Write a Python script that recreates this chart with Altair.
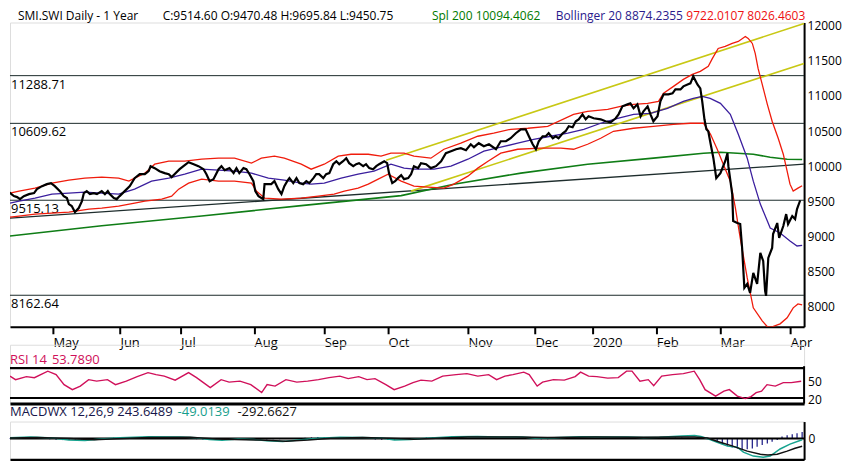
import json
import altair as alt
import pandas as pd

# ---------------- data ----------------
# x = trading-day index (0 = first day of the 1-year window)
price_day = [0, 1.6, 2.8, 3.8, 4.7, 5.9, 7.5, 9.1, 10, 11.6,
             13.1, 14.4, 15.6, 17.2, 18.4, 19.4, 20, 20.9, 21.9, 23.1,
             24.1, 24.7, 25.6, 26.6, 27.8, 28.8, 30.3, 31.3, 32.2, 32.8,
             34.1, 35, 35.9, 37.5, 39.1, 40.6, 42.2, 43.8, 45, 45.6,
             46.9, 48.4, 50, 51.3, 52.2, 53.1, 54.7, 56.3, 57.5, 59.1,
             60.6, 62.2, 63.1, 64.1, 65.3, 66.9, 67.8, 68.8, 70.3, 71.6,
             72.5, 73.4, 74.7, 75.6, 76.6, 77.8, 78.4, 79.4, 80.9, 81.3,
             82.5, 83.4, 84.4, 85.6, 86.6, 87.5, 88.4, 89.1, 90.3, 91.3,
             92.2, 93.4, 94.4, 95.3, 96.6, 97.5, 98.4, 99.7, 100.6, 101.6,
             102.8, 103.8, 104.7, 105.9, 106.9, 107.8, 109.1, 110, 110.9, 112.2,
             113.1, 114.1, 115.3, 116.3, 117.2, 118.8, 119.7, 120.3, 121.3, 122.2,
             123.1, 124.1, 125, 126.3, 127.2, 128.1, 129.4, 130.3, 131.9, 133.4,
             135, 136.6, 138.1, 139.7, 141.3, 142.8, 144.4, 145.9, 146.9, 148.4,
             150, 151.6, 153.8, 155.3, 156.9, 158.4, 160, 161.6, 163.1, 164.1,
             165.3, 166.3, 167.2, 168.4, 169.4, 170.3, 171.6, 172.5, 173.4, 174.7,
             175.6, 176.6, 177.8, 178.8, 179.7, 180.9, 181.9, 182.8, 184.4, 186.6,
             188.1, 189.7, 191.3, 192.2, 193.4, 195, 195.9, 196.9, 198.1, 199.1,
             200, 201.3, 202.2, 203.1, 204.4, 205.3, 206.3, 207.8, 209.1, 210,
             211.6, 212.5, 213.8, 214.7, 215.6, 216.9, 217.8, 218.4, 219.1, 219.7,
             220.3, 221, 221.9, 222.8, 224.1, 225.6, 226.3, 226.6, 227.8, 228.1,
             229.4, 230.3, 230.9, 231.6, 232.5, 233.4, 234.4, 235.6, 236.6, 237.5,
             238.1, 238.4, 239.1, 240.3, 240.6, 241.9, 242.5, 243.8, 244.7, 245.3,
             246.6, 247.5, 248.1, 249.1]
price_close = [9602, 9617, 9574, 9560, 9531, 9574, 9602, 9617, 9673, 9716,
               9744, 9759, 9716, 9645, 9574, 9546, 9460, 9432, 9347, 9404,
               9503, 9617, 9645, 9602, 9617, 9602, 9645, 9602, 9645, 9602,
               9546, 9531, 9574, 9645, 9716, 9830, 9886, 9886, 9929, 10000,
               9972, 9929, 9901, 9886, 9844, 9886, 9957, 10014, 10057, 10028,
               10000, 9957, 9886, 9787, 9815, 9957, 10000, 9943, 9972, 9901,
               9972, 9901, 9972, 9957, 9886, 9787, 9645, 9574, 9531, 9744,
               9744, 9744, 9787, 9673, 9602, 9716, 9787, 9830, 9759, 9830,
               9759, 9744, 9787, 9759, 9830, 9886, 9886, 9830, 9886, 9901,
               10028, 10071, 10028, 10071, 10114, 10043, 10000, 10028, 10043, 10000,
               10028, 9972, 9957, 10000, 10028, 10071, 10043, 9901, 9759, 9787,
               9830, 9872, 9815, 9830, 9886, 10000, 9972, 10043, 10028, 9972,
               10000, 10071, 10185, 10213, 10241, 10256, 10227, 10312, 10270, 10327,
               10284, 10312, 10241, 10355, 10355, 10398, 10469, 10525, 10525, 10426,
               10312, 10241, 10355, 10426, 10426, 10469, 10398, 10426, 10398, 10469,
               10497, 10568, 10554, 10639, 10667, 10738, 10667, 10710, 10682, 10667,
               10639, 10625, 10682, 10738, 10852, 10880, 10895, 10824, 10880, 10710,
               10781, 10852, 10738, 10639, 10710, 10923, 11022, 11022, 11037, 11093,
               11093, 11136, 11164, 11179, 11278, 11164, 11108, 10923, 10667, 10525,
               10497, 10327, 10114, 9830, 9901, 10071, 10185, 10000, 9602, 9219,
               9191, 9176, 8836, 8268, 8324, 8197, 8481, 8324, 8765, 8651,
               8225, 8154, 8694, 8836, 9034, 9191, 8978, 9148, 9318, 9176,
               9290, 9247, 9389, 9515]

upper_day = [0, 4.4, 9.4, 14.7, 20, 25, 30.3, 35.6, 38.8, 40.6, 43.8, 46.9, 51.3, 56.3,
             61.6, 66.9, 71.9, 77.2, 80.3, 84.4, 87.5, 92.8, 95.9, 100, 104.4, 108.4,
             113.8, 117.8, 120.9, 125, 128.1, 133.4, 137.5, 142.8, 148.1, 153.1, 158.4,
             163.8, 170, 178.1, 182.5, 188.8, 192.8, 196.9, 201.3, 204.7, 206.3, 209.4,
             212.5, 215.3, 217.8, 220.3, 221.6, 223.4, 225.6, 227.8, 229.7, 231.9,
             232.8, 234.1, 235, 235.9, 237.2, 238.8, 240.3, 242.2, 243.8, 245, 245.9,
             246.9, 248.4, 249.7]
upper_val = [9617, 9645, 9688, 9759, 9801, 9830, 9844, 9830, 9787, 9830, 9901, 10028, 10071, 10071,
             10099, 10114, 10114, 10043, 10114, 10142, 10114, 10028, 9957, 10028, 10142, 10170,
             10170, 10142, 10185, 10185, 10142, 10114, 10241, 10327, 10426, 10469, 10525,
             10540, 10568, 10738, 10781, 10809, 10852, 10880, 10895, 10923, 11037, 11136,
             11235, 11306, 11349, 11420, 11534, 11676, 11704, 11747, 11775, 11846,
             11818, 11747, 11605, 11392, 11164, 10880, 10639, 10398, 10170, 9929, 9744,
             9645, 9688, 9722]

lower_day = [0, 4.4, 9.4, 14.7, 20, 26.3, 30.3, 35.6, 40.6, 43.8, 49.1, 52.2, 54.4, 57.5,
             61.6, 66.9, 71.9, 77.2, 78.8, 81.3, 86.6, 92.8, 98.1, 103.1, 106.3, 110.6,
             113.8, 116.9, 120, 124.1, 128.1, 132.5, 137.5, 140.6, 145, 148.1, 151.3,
             155.3, 160.6, 167.8, 174.1, 178.1, 182.5, 186.6, 190.6, 196.9, 203.1, 209.4,
             214.7, 218.8, 221, 223.1, 225, 227.2, 228.8, 230.3, 232.5, 234.4, 237.2,
             238.8, 240.3, 242.8, 245, 246.9, 248.4, 249.7]
lower_val = [9276, 9290, 9318, 9333, 9347, 9389, 9404, 9432, 9475, 9503, 9531, 9574, 9673, 9759,
             9815, 9787, 9787, 9759, 9645, 9546, 9531, 9546, 9574, 9602, 9645, 9688,
             9744, 9815, 9886, 9787, 9716, 9702, 9688, 9744, 9858, 9972, 10071,
             10185, 10241, 10256, 10256, 10241, 10312, 10398, 10497, 10540, 10568, 10596,
             10611, 10611, 10454, 10241, 10028, 9787, 9404, 8978, 8410, 7984, 7799,
             7657, 7700, 7756, 7842, 7984, 8040, 8026]

mid_day = [0, 4.4, 9.4, 14.7, 20, 25, 30.3, 35.6, 40.6, 45.9, 51.3, 56.3, 61.6, 66.9,
           71.9, 77.2, 82.5, 87.5, 92.8, 95.9, 100, 105.3, 110.6, 115.6, 120.9, 125,
           128.1, 134.4, 139.7, 145, 150, 155.3, 160.6, 165.6, 170.9, 176.3, 181.3,
           186.6, 191.9, 196.9, 202.2, 207.5, 212.5, 215.6, 218.4, 220.9, 224.1, 227.2,
           229.7, 232.5, 234.4, 236.6, 238.8, 239.7, 242.8, 245.9, 248.1, 249.7]
mid_val = [9475, 9503, 9546, 9602, 9617, 9631, 9617, 9602, 9673, 9787, 9830, 9886, 9957, 9943,
           9929, 9901, 9830, 9801, 9759, 9744, 9759, 9830, 9886, 9929, 10028, 9972,
           9957, 9957, 10000, 10099, 10213, 10270, 10327, 10383, 10426, 10469, 10525,
           10611, 10682, 10738, 10753, 10824, 10923, 10966, 10994, 10966, 10895, 10738,
           10454, 10114, 9787, 9460, 9219, 9120, 9049, 8935, 8864, 8874]

sma_day = [0, 30.3, 61.6, 92.8, 124.1, 140.6, 161.6, 182.5, 203.1, 218.8, 224.1, 229.4,
           234.4, 239.7, 245, 249.7]
sma_val = [9006, 9152, 9290, 9439, 9581, 9744, 9901, 10028, 10114, 10185, 10199, 10185,
           10170, 10128, 10099, 10094]

trend_day = [0, 250.3]
trend_val = [9262, 10028]
chan_up_day = [119.4, 250.3]
chan_up_val = [10085, 12031]
chan_lo_day = [127.2, 250.3]
chan_lo_val = [9645, 11463]

levels = [11288.71, 10609.62, 9515.13, 8162.64]
level_labels = ["11288.71", "10609.62", "9515.13", "8162.64"]

y_ticks = [8000, 8500, 9000, 9500, 10000, 10500, 11000, 11500, 12000]
month_days = [15, 36, 55, 78, 100, 120, 145, 166, 184, 204, 224, 246]
month_names = ["May", "Jun", "Jul", "Aug", "Sep", "Oct", "Nov", "Dec", "2020", "Feb", "Mar", "Apr"]

rsi_day = [0, 3.3, 6.7, 9.2, 13.4, 16, 18.5, 21.1, 23.6, 26.2, 28.7, 32.1, 34.6, 38, 41.4,
           44.8, 47.3, 49.9, 53.3, 57.5, 60, 64.3, 67.7, 70.2, 73.6, 77, 80.4, 82.1, 84.6,
           88, 91.4, 94.8, 98.2, 101.5, 104.9, 107.5, 110.8, 113.4, 115.9, 119.3, 121.9,
           125.2, 127.8, 130.3, 133.7, 137.1, 141.3, 144.7, 148.1, 151.5, 154, 156.6,
           159.1, 162.5, 164.2, 166.7, 168.4, 171.8, 175.2, 178.6, 180.3, 182.8, 185.4,
           188.8, 192.1, 194.7, 196.4, 198.9, 201.5, 203.2, 205.7, 209.1, 212.5, 215.9,
           217.6, 219.3, 222.6, 225.2, 226.9, 229.4, 231.9, 233.7, 235.3, 237, 238.7,
           241.3, 243.8, 246.3, 249.4]
rsi_val = [64, 57, 63, 61, 74, 67, 47, 37, 44, 57, 54, 57, 47, 54, 63,
           71, 67, 64, 56, 71, 61, 41, 57, 52, 54, 47, 31, 47, 44,
           57, 52, 54, 57, 61, 64, 59, 63, 57, 59, 47, 37,
           44, 51, 56, 54, 64, 67, 69, 64, 67, 57, 64,
           67, 72, 67, 44, 52, 57, 56, 63, 72, 64, 63,
           60, 61, 74, 74, 54, 57, 45, 64, 67, 69, 74,
           57, 37, 24, 34, 37, 24, 19, 23, 31, 34, 47,
           44, 51, 51, 53.79]
rsi_levels = [80, 20]
rsi_ticks = [50, 20]

macd_day = [0, 8, 15, 20, 25, 30, 36, 45, 55, 60, 64, 68, 73, 78, 82, 87, 92, 98, 105, 112,
            118, 122, 127, 132, 140, 148, 155, 162, 166, 172, 180, 188, 195, 200, 205, 212,
            216, 218, 220, 223.1, 226.3, 229.4, 231.3, 234.4, 237.5, 239.7, 242.8, 245.9, 249.7]
macd_val = [30, 60, 20, -60, -80, -20, 30, 70, 60, 30, -40, -70, -20, -40, -90, -110, -60, 10, 50, 40,
            20, -60, -40, 10, 70, 80, 60, 60, 20, 30, 70, 60, 60, 40, 50, 100,
            110, 80, 0, -140, -290, -330, -520, -670, -710, -670, -400, -215, -49]
signal_day = [0, 10, 20, 28, 35, 45, 58, 66, 72, 80, 88, 95, 102, 112, 120, 128, 135, 145,
              160, 170, 185, 200, 212, 216, 220, 224, 228, 232.5, 236.6, 239, 241.9, 245,
              247.5, 249.7]
signal_val = [20, 40, 0, -50, -10, 40, 50, -20, -40, -60, -100, -60, 10, 40, 10, -30, 10, 60,
              60, 40, 60, 50, 60, 60, 20, -140, -290, -480, -600, -630, -600, -480,
              -370, -292]

hist_day_early = list(range(0, 220, 2))
hist_val_early = [15, 20, 25, 20, 15,
                  5, -10, -25,
                  -45, -60, -60, -50, -40,
                  -30, -15, 0, 15, 30,
                  40, 40, 35, 35, 30,
                  30, 25, 20, 15, 10, 5,
                  -10, -25, -40, -50,
                  -45, -30, -15, 0, 10,
                  5, -10, -25, -35, -30, -25,
                  -15, 0, 15, 30, 45, 55,
                  55, 45, 35, 25, 15, 5,
                  -10, -20, -35, -50, -60, -50,
                  -35, -20, 0, 20, 35,
                  50, 55, 50, 40, 30, 20,
                  10, 5, 0, -5, -10, -5, 0, 5, 10, 0,
                  -20, -30, -25, -10,
                  10, 20, 25, 25, 20, 10,
                  0, -10, -10, -5, 0, 5, 0,
                  5, 10, 20, 30, 35, 40, 35,
                  25, 5, -20]
hist_day_late = [220, 221.6, 223.1, 224.7, 226.3, 227.8, 229.4, 230.9, 232.5, 234.1, 235.6,
                 237.2, 238.8, 240.3, 241.9, 243.4, 245, 246.6, 248.1, 249.7]
hist_val_late = [-30, -90, -150, -215, -280, -340, -380, -405, -405, -380, -315,
                 -250, -190, -125, -60, 75, 125, 165, 200, 243.65]

# header pieces: (x offset in px from plot left, text, colour)
header_parts = [
    (8, "SMI.SWI Daily -  1 Year", "#000000"),
    (153, "C:9514.60 O:9470.48 H:9695.84 L:9450.75", "#000000"),
    (423, "Spl 200 10094.4062", "#007a00"),
    (547, "Bollinger 20 8874.2355", "#2a1a8c"),
    (678, "9722.0107 8026.4603", "#ee1111"),
]
rsi_parts = [(0, "RSI 14", "#d0105a"), (42, "53.7890", "#d0105a")]
macd_parts = [(0, "MACDWX 12,26,9  243.6489", "#16164a"),
              (168, "-49.0139", "#169e8c"),
              (228, "-292.6627", "#111111")]

# ---------------- layout ----------------
FONT = "Open Sans"
W = 796
X_DOM = [1.5625, 250.3125]
xs = alt.Scale(domain=X_DOM, nice=False, zero=False, clamp=True)

label_expr = f"{json.dumps(month_names)}[indexof({json.dumps(month_days)}, datum.value)]"

x_main = alt.X("t:Q", scale=xs, axis=alt.Axis(
    values=month_days, labelExpr=label_expr, title=None, grid=False,
    domainColor="black", domainWidth=2, tickColor="black", tickWidth=2, tickSize=7,
    labelAlign="left", labelBaseline="top", labelPadding=3, labelFontSize=13,
    labelColor="black", labelFont=FONT, labelFlush=False, labelOverlap=False))
y_main = alt.Y("v:Q", scale=alt.Scale(domain=[7714, 12045], nice=False, zero=False, clamp=True),
               axis=alt.Axis(orient="right", values=y_ticks, format="d", title=None, grid=False,
                             ticks=False, domainColor="black", domainWidth=2, labelPadding=3,
                             labelFontSize=12, labelColor="black", labelFont=FONT,
                             labelFlush=False, labelOverlap=False))


def df(days, vals, name="v"):
    return pd.DataFrame({"t": days, name: vals})


def line(data, color, width):
    return alt.Chart(data).mark_line(color=color, strokeWidth=width, clip=True).encode(x=x_main, y=y_main)


lv = pd.DataFrame({"v": levels, "label": level_labels})
level_rules = alt.Chart(lv).mark_rule(color="#1b2a2a", strokeWidth=1).encode(y=y_main)
level_text = alt.Chart(lv).mark_text(align="left", baseline="top", dy=3, fontSize=13,
                                     font=FONT, color="black").encode(
    x=alt.value(1), y=y_main, text="label:N")

header_layers = []
for px, txt, col in header_parts:
    header_layers.append(
        alt.Chart(pd.DataFrame({"label": [txt]})).mark_text(
            align="left", baseline="middle", fontSize=12, font=FONT, color=col
        ).encode(x=alt.value(px), y=alt.value(-7), text="label:N"))

main = alt.layer(
    level_rules, level_text,
    line(df(trend_day, trend_val), "#1e2d2d", 1.3),
    line(df(chan_up_day, chan_up_val), "#c8c814", 1.6),
    line(df(chan_lo_day, chan_lo_val), "#c8c814", 1.6),
    line(df(sma_day, sma_val), "#0f7d16", 1.6),
    line(df(upper_day, upper_val), "#f01c0c", 1.3),
    line(df(lower_day, lower_val), "#f01c0c", 1.3),
    line(df(mid_day, mid_val), "#3b1f9e", 1.3),
    line(df(price_day, price_close), "#000000", 2.2),
    *header_layers,
).properties(width=W, height=305)

# ---------------- RSI ----------------
rsi_x = alt.X("t:Q", scale=xs, axis=alt.Axis(labels=False, ticks=False, title=None, grid=False,
                                             domainColor="black", domainWidth=3))
rsi_y = alt.Y("r:Q", scale=alt.Scale(domain=[9, 127], nice=False, zero=False, clamp=True), axis=None)
rsi_line = alt.Chart(df(rsi_day, rsi_val, "r")).mark_line(color="#d0105a", strokeWidth=1.4,
                                                          clip=True).encode(x=rsi_x, y=rsi_y)
rsi_top = alt.Chart(pd.DataFrame({"r": rsi_levels[:1]})).mark_rule(color="black", strokeWidth=2.2).encode(y=rsi_y)
rsi_low = alt.Chart(pd.DataFrame({"r": rsi_levels[1:]})).mark_rule(color="black", strokeWidth=2).encode(y=rsi_y)
rsi_edge = alt.Chart(pd.DataFrame({"r": [84]})).mark_rule(color="black", strokeWidth=2).encode(
    x=alt.value(W), y=rsi_y, y2=alt.datum(9))
rsi_tick_labels = [
    alt.Chart(pd.DataFrame({"r": [v], "label": [str(v)]})).mark_text(
        align="left", baseline="middle", fontSize=12, font=FONT, color="black", dy=d
    ).encode(x=alt.value(W + 4), y=rsi_y, text="label:N")
    for v, d in zip(rsi_ticks, [-1, 2])
]
rsi_text = [alt.Chart(pd.DataFrame({"label": [t]})).mark_text(
    align="left", baseline="middle", fontSize=13, font=FONT, color=c
).encode(x=alt.value(px), y=alt.value(15.5), text="label:N") for px, t, c in rsi_parts]
rsi = alt.layer(rsi_top, rsi_low, rsi_edge, rsi_line, *rsi_tick_labels, *rsi_text).properties(
    width=W, height=59)

# ---------------- MACD ----------------
m_x = alt.X("t:Q", scale=xs, axis=alt.Axis(labels=False, ticks=False, title=None, grid=False,
                                           domainColor="black", domainWidth=2.5))
m_y = alt.Y("m:Q", scale=alt.Scale(domain=[-798, 646], nice=False, zero=False, clamp=True),
            axis=alt.Axis(orient="right", values=[0], title=None, grid=False, ticks=False,
                          domainColor="black", domainWidth=2, labelPadding=4, labelFontSize=12,
                          labelFont=FONT, labelColor="black"))
hist_df = pd.concat([df(hist_day_early, hist_val_early, "m"), df(hist_day_late, hist_val_late, "m")])
hist = alt.Chart(hist_df).mark_rule(color="#26268a", strokeWidth=1.3).encode(
    x=m_x, y=m_y, y2=alt.datum(0))
zero = alt.Chart(pd.DataFrame({"m": [0]})).mark_rule(color="black", strokeWidth=2).encode(y=m_y)
macd_line = alt.Chart(df(macd_day, macd_val, "m")).mark_line(color="#17a38f", strokeWidth=1.5,
                                                             clip=True).encode(x=m_x, y=m_y)
sig_line = alt.Chart(df(signal_day, signal_val, "m")).mark_line(color="#111111", strokeWidth=1.5,
                                                                clip=True).encode(x=m_x, y=m_y)
macd_text = [alt.Chart(pd.DataFrame({"label": [t]})).mark_text(
    align="left", baseline="middle", fontSize=13, font=FONT, color=c
).encode(x=alt.value(px), y=alt.value(-9.5), text="label:N") for px, t, c in macd_parts]
macd = alt.layer(hist, zero, macd_line, sig_line, *macd_text).properties(width=W, height=38)

chart = alt.vconcat(main, rsi, macd, spacing=18, bounds="flush").properties(
    padding={"left": 0, "top": 0, "right": 0, "bottom": 0},
    autosize=alt.AutoSizeParams(type="pad"),
).configure_view(stroke=None).configure(font=FONT, background="white")

chart.save("out.html", embed_options={"renderer": "svg", "actions": False})
